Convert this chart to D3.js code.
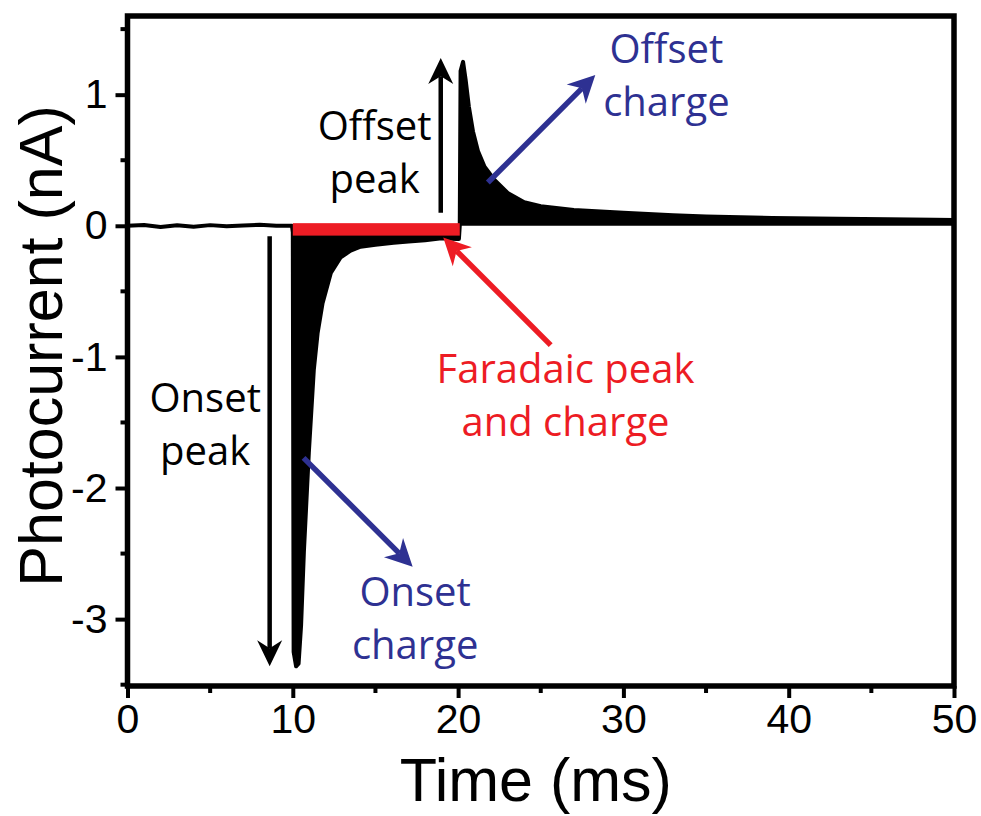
<!DOCTYPE html>
<html>
<head>
<meta charset="utf-8">
<script src="https://cdn.jsdelivr.net/npm/d3@7"></script>
<style>
  body { margin: 0; background: #fff; }
  svg { display: block; }
</style>
</head>
<body>
<div id="chart"></div>
<script>
// trace (time in ms, photocurrent in nA)
const timeMs = [0, 1, 2, 3, 4, 5, 6, 7, 8, 9, 9.95,
  10.0, 10.05, 10.2, 10.35, 10.5, 10.67, 10.97, 11.27, 11.5, 11.8, 12.3, 12.9, 13.5, 14.1,
  15, 16.1, 17, 18, 19, 19.9, 20.05, 20.1,
  20.15, 20.3, 20.45, 20.65, 20.9, 21.2, 21.6, 22.2, 23, 24, 25, 27, 30, 33, 35, 39, 43, 46, 48.8, 50];
const currentNA = [0.0, 0.006, -0.01, 0.004, -0.008, 0.005, -0.004, 0.002, 0.008, 0.0, 0.0,
  -0.05, -3.25, -3.36, -3.34, -3.05, -2.49, -1.73, -1.10, -0.82, -0.59, -0.36, -0.24, -0.19, -0.16,
  -0.145, -0.13, -0.12, -0.11, -0.095, -0.1, -0.1, 0.0,
  1.18, 1.25, 1.12, 0.91, 0.72, 0.57, 0.45, 0.35, 0.25, 0.18, 0.15, 0.12, 0.10, 0.08, 0.07, 0.06, 0.053, 0.05, 0.046, 0.045];

const xTicks = [0, 10, 20, 30, 40, 50];
const yTicks = [-3, -2, -1, 0, 1];

// faradaic window (ms)
const faradaicStart = 10, faradaicEnd = 20.1;

const width = 981, height = 816;
const margin = {top: 16, right: 27, bottom: 130, left: 127.5};

const svg = d3.select("#chart").append("svg")
  .attr("width", width)
  .attr("height", height);

const x = d3.scaleLinear().domain([0, 50]).range([margin.left, width - margin.right]);
const y = d3.scaleLinear().domain([-3.51, 1.60]).range([height - margin.bottom, margin.top]);

const data = timeMs.map((t, i) => ({t: t, v: currentNA[i]}));

// filled trace (dense oscillation shows as solid black)
svg.append("path")
  .datum(data)
  .attr("d", d3.area().x(d => x(d.t)).y0(y(0)).y1(d => y(d.v)))
  .style("fill", "black");
svg.append("path")
  .datum(data)
  .attr("d", d3.line().x(d => x(d.t)).y(d => y(d.v)))
  .style("fill", "none")
  .style("stroke", "black")
  .style("stroke-width", 4)
  .style("stroke-linejoin", "round")
  .style("stroke-linecap", "round");

// red faradaic bar
svg.append("rect")
  .attr("x", x(faradaicStart))
  .attr("y", y(0.02))
  .attr("width", x(faradaicEnd) - x(faradaicStart))
  .attr("height", y(-0.075) - y(0.02))
  .style("fill", "#ed1c24");

// axes
const axisW = 5.5;
const xAxis = svg.append("g")
  .attr("transform", "translate(0," + y.range()[0] + ")")
  .call(d3.axisBottom(x).tickValues(xTicks).tickSize(12).tickPadding(6).tickSizeOuter(0));
const yAxis = svg.append("g")
  .attr("transform", "translate(" + x.range()[0] + ",0)")
  .call(d3.axisLeft(y).tickValues(yTicks).tickSize(12).tickPadding(8).tickSizeOuter(0)
    .tickFormat(d => d < 0 ? "-" + Math.abs(d) : d));

// minor ticks
const xMinor = d3.range(5, 50, 10);
const yMinor = d3.range(-3.5, 1.6, 1);
svg.append("g").selectAll("line").data(xMinor).enter().append("line")
  .attr("x1", d => x(d)).attr("x2", d => x(d))
  .attr("y1", y.range()[0]).attr("y2", y.range()[0] + 7)
  .style("stroke", "black").style("stroke-width", 4);
svg.append("g").selectAll("line").data(yMinor).enter().append("line")
  .attr("x1", x.range()[0]).attr("x2", x.range()[0] - 7)
  .attr("y1", d => y(d)).attr("y2", d => y(d))
  .style("stroke", "black").style("stroke-width", 4);

[xAxis, yAxis].forEach(g => {
  g.select(".domain").remove();
  g.selectAll(".tick line").style("stroke", "black").style("stroke-width", 4);
  g.selectAll(".tick text")
    .style("font-family", "'Liberation Sans', Arial, sans-serif")
    .style("font-size", "41px")
    .style("fill", "black");
});

// frame
svg.append("rect")
  .attr("x", x.range()[0]).attr("y", y.range()[1])
  .attr("width", x.range()[1] - x.range()[0])
  .attr("height", y.range()[0] - y.range()[1])
  .style("fill", "none")
  .style("stroke", "black")
  .style("stroke-width", axisW);

// axis titles
svg.append("text")
  .attr("x", (x.range()[0] + x.range()[1]) / 2 - 5)
  .attr("y", 801)
  .attr("text-anchor", "middle")
  .style("font-family", "'Liberation Sans', Arial, sans-serif")
  .style("font-size", "61px")
  .text("Time (ms)");
svg.append("text")
  .attr("transform", "translate(62," + ((y.range()[0] + y.range()[1]) / 2 - 5) + ") rotate(-90)")
  .attr("text-anchor", "middle")
  .style("font-family", "'Liberation Sans', Arial, sans-serif")
  .style("font-size", "61px")
  .text("Photocurrent (nA)");

// arrows: data-space endpoints
function arrow(t0, v0, t1, v1, color, lw, len, wid) {
  const x0 = x(t0), y0 = y(v0), x1 = x(t1), y1 = y(v1);
  const dx = x1 - x0, dy = y1 - y0, d = Math.hypot(dx, dy);
  const ux = dx / d, uy = dy / d, px = -uy, py = ux;
  const bx = x1 - ux * len, by = y1 - uy * len;
  const nx = x1 - ux * len * 0.7, ny = y1 - uy * len * 0.7;
  svg.append("line")
    .attr("x1", x0).attr("y1", y0).attr("x2", nx).attr("y2", ny)
    .style("stroke", color).style("stroke-width", lw);
  svg.append("path")
    .attr("d", "M" + x1 + "," + y1 +
      "L" + (bx + px * wid / 2) + "," + (by + py * wid / 2) +
      "L" + nx + "," + ny +
      "L" + (bx - px * wid / 2) + "," + (by - py * wid / 2) + "Z")
    .style("fill", color);
}

const blue = "#2e3192", red = "#ed1c24";
arrow(8.6, -0.08, 8.6, -3.36, "black", 4.5, 26, 25);
arrow(18.95, 0.10, 18.95, 1.28, "black", 4.5, 26, 25);
arrow(21.8, 0.33, 28.3, 1.15, blue, 5.5, 27, 27);
arrow(10.65, -1.77, 17.25, -2.6, blue, 5.5, 27, 27);
arrow(25.6, -0.91, 19.1, -0.09, red, 5.5, 27, 27);

function label(t, v, lines, color) {
  const txt = svg.append("text")
    .attr("text-anchor", "middle")
    .style("font-family", "'Open Sans', 'Noto Sans', sans-serif")
    .style("font-size", "40px")
    .style("fill", color);
  lines.forEach((s, i) => {
    txt.append("tspan")
      .attr("x", x(t))
      .attr("y", y(v) + i * 53)
      .text(s);
  });
}

label(14.95, 0.655, ["Offset", "peak"], "black");
label(4.7, -1.42, ["Onset", "peak"], "black");
label(32.6, 1.24, ["Offset", "charge"], blue);
label(17.4, -2.9, ["Onset", "charge"], blue);
label(26.5, -1.2, ["Faradaic peak", "and charge"], red);
</script>
</body>
</html>
